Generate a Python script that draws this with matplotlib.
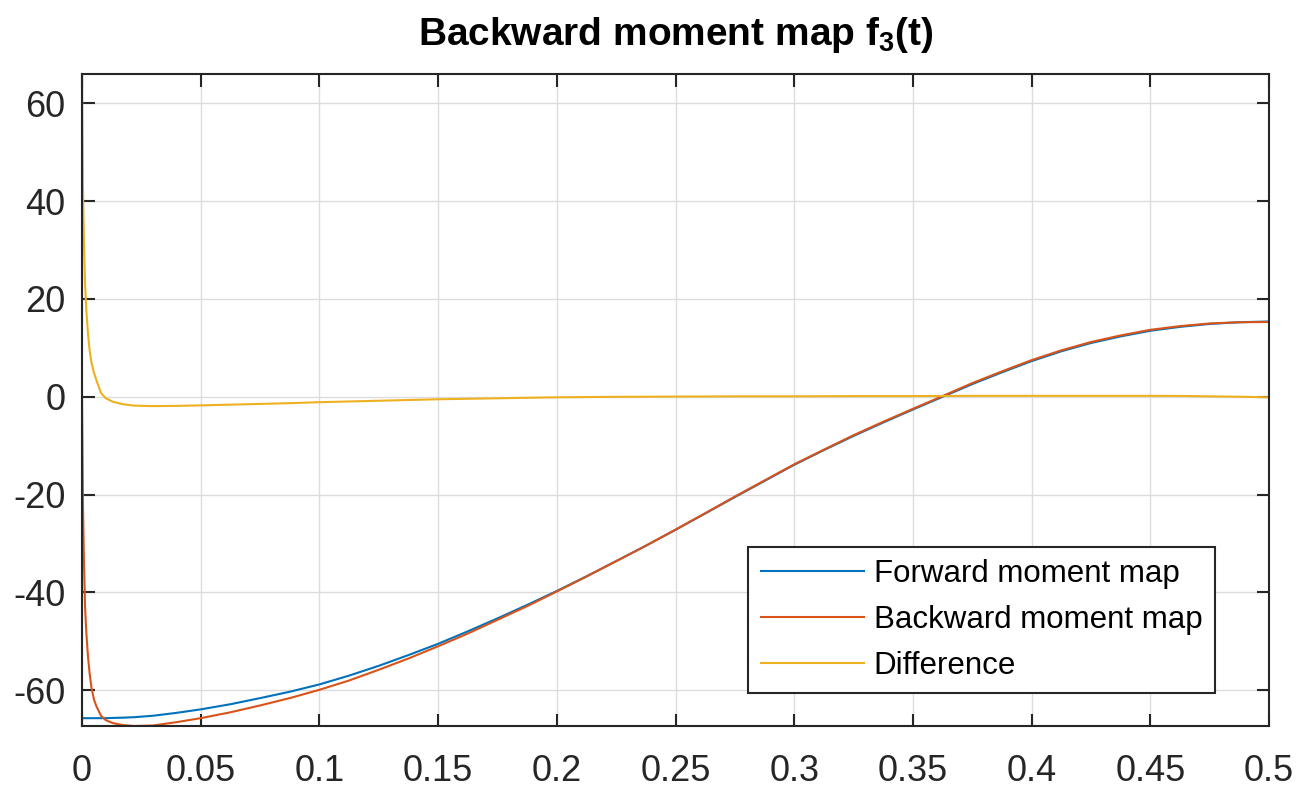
import matplotlib
matplotlib.use("Agg")
import matplotlib.pyplot as plt
from matplotlib import font_manager as fm

# ---- data ----
t = [0, 0.0002, 0.0004, 0.0008, 0.0013, 0.0018, 0.0025, 0.0032, 0.004, 0.005,
     0.006, 0.008, 0.01, 0.013, 0.017, 0.022, 0.03, 0.04, 0.05,
     0.0625, 0.075, 0.0875, 0.1, 0.1125, 0.125, 0.1375, 0.15, 0.1625, 0.175,
     0.1875, 0.2, 0.2125, 0.225, 0.2375, 0.25, 0.2625, 0.275, 0.2875, 0.3,
     0.3125, 0.325, 0.3375, 0.35, 0.3625, 0.375, 0.3875, 0.4, 0.4125, 0.425,
     0.4375, 0.45, 0.4625, 0.475, 0.4875, 0.5]

forward = [-65.7, -65.7, -65.7, -65.7, -65.7, -65.7, -65.7, -65.7, -65.7, -65.7,
           -65.7, -65.7, -65.7, -65.65, -65.6, -65.5, -65.2, -64.6, -63.9,
           -62.85, -61.6, -60.3, -58.8, -57.0, -55.0, -52.8, -50.5, -47.95, -45.3,
           -42.55, -39.7, -36.7, -33.6, -30.45, -27.2, -23.85, -20.5, -17.2, -13.9,
           -10.9, -8.0, -5.25, -2.6, 0.0, 2.6, 5.0, 7.3, 9.3, 11.0,
           12.35, 13.5, 14.3, 14.9, 15.25, 15.4]

backward = [0.0, -11.0, -22.0, -33.0, -43.0, -48.0, -53.0, -56.5, -59.5, -61.8,
            -63.2, -65.2, -66.1, -66.7, -67.1, -67.3, -67.2, -66.5, -65.7,
            -64.5, -63.1, -61.6, -59.9, -58.0, -55.8, -53.5, -51.0, -48.4, -45.6,
            -42.8, -39.8, -36.75, -33.6, -30.45, -27.15, -23.8, -20.4, -17.1, -13.8,
            -10.8, -7.85, -5.1, -2.45, 0.15, 2.8, 5.2, 7.5, 9.5, 11.2,
            12.55, 13.7, 14.45, 15.0, 15.25, 15.3]

difference = [66.0, 55.0, 43.0, 32.0, 23.0, 18.0, 13.0, 9.5, 7.0, 5.0,
              3.5, 0.8, -0.3, -1.0, -1.5, -1.8, -1.9, -1.85, -1.75,
              -1.6, -1.45, -1.3, -1.1, -0.95, -0.8, -0.65, -0.5, -0.4, -0.3,
              -0.2, -0.1, -0.05, 0.0, 0.02, 0.05, 0.07, 0.1, 0.1, 0.1,
              0.12, 0.15, 0.15, 0.15, 0.17, 0.2, 0.2, 0.2, 0.2, 0.2,
              0.2, 0.2, 0.18, 0.1, 0.02, -0.1]

xticks = [0, 0.05, 0.1, 0.15, 0.2, 0.25, 0.3, 0.35, 0.4, 0.45, 0.5]
xticklabels = ["0", "0.05", "0.1", "0.15", "0.2", "0.25", "0.3", "0.35", "0.4", "0.45", "0.5"]
yticks = [-60, -40, -20, 0, 20, 40, 60]
yticklabels = ["-60", "-40", "-20", "0", "20", "40", "60"]
labels = ["Forward moment map", "Backward moment map", "Difference"]
title = "Backward moment map f$_3$(t)"

# ---- fonts ----
names = {f.name for f in fm.fontManager.ttflist}
base_font = "Liberation Sans" if "Liberation Sans" in names else "DejaVu Sans"
plt.rcParams["font.family"] = [base_font, "DejaVu Sans"]
plt.rcParams["mathtext.default"] = "regular"

colors = ["#0072BD", "#D95319", "#EDB120"]
axcol = "#262626"

fig = plt.figure(figsize=(13.03, 7.94), dpi=100)
ax = fig.add_axes([82 / 1303, 1 - 726 / 794, (1269 - 82) / 1303, (726 - 74) / 794])

ax.plot(t, forward, color=colors[0], lw=1.5, label=labels[0])
ax.plot(t, backward, color=colors[1], lw=1.5, label=labels[1])
ax.plot(t, difference, color=colors[2], lw=1.5, label=labels[2])

ax.set_xlim(0, 0.5)
ax.set_ylim(-67.3, 66.0)
ax.set_xticks(xticks)
ax.set_xticklabels(xticklabels)
ax.set_yticks(yticks)
ax.set_yticklabels(yticklabels)

ax.grid(True, color="#dcdcdc", lw=1.0)
ax.set_axisbelow(True)
for s in ax.spines.values():
    s.set_color(axcol)
    s.set_linewidth(1.5)
ax.tick_params(direction="in", length=9, width=1.5, color=axcol,
               top=True, right=True, labelsize=26, labelcolor=axcol)
ax.tick_params(axis="x", pad=20)
ax.tick_params(axis="y", pad=12)

ax.set_title(title, fontsize=28, fontweight="bold", pad=21, color="black")

leg = ax.legend(loc="lower right", bbox_to_anchor=((1215 - 82) / 1187, (726 - 693) / 652),
                borderaxespad=0, fontsize=22.5, frameon=True, fancybox=False,
                handlelength=3.3, handletextpad=0.32, labelspacing=0.5,
                borderpad=0.4)
leg.get_frame().set_edgecolor(axcol)
leg.get_frame().set_linewidth(1.5)
leg.get_frame().set_alpha(1)

fig.savefig("out.png", dpi=100, facecolor="white")
